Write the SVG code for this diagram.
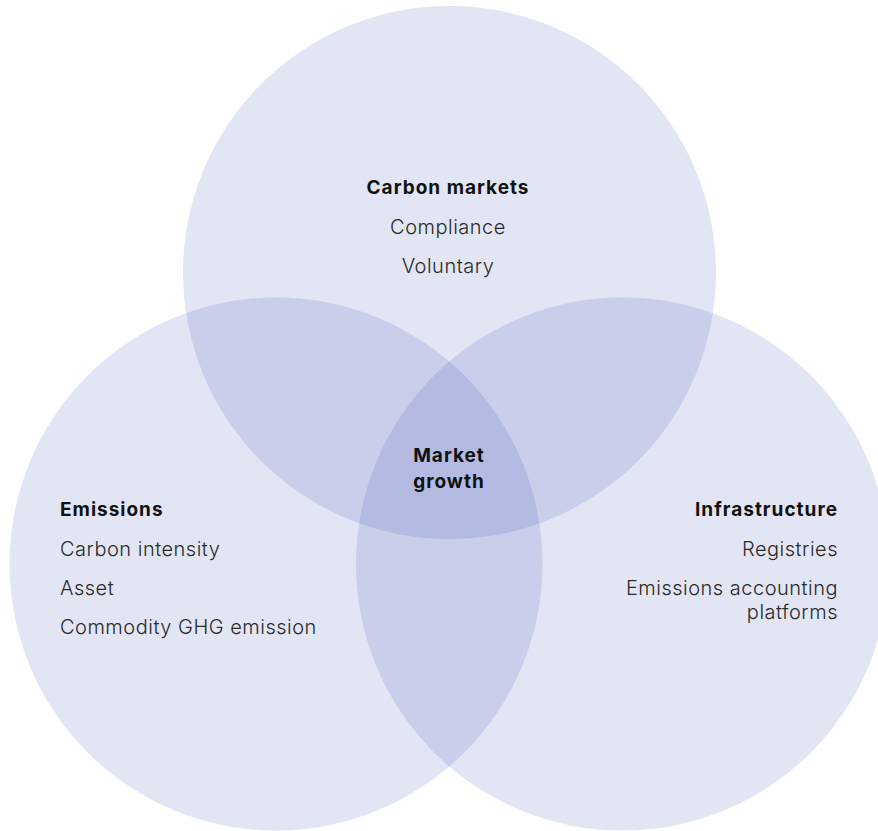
<svg xmlns="http://www.w3.org/2000/svg" width="878" height="831" viewBox="0 0 878 831">
  <style>
    .ring { fill: #3045b0; fill-opacity: 0.14; }
    .head { font-family: Inter, "Liberation Sans", sans-serif; font-size: 19px; font-weight: 700; fill: #111111; letter-spacing: 1px; }
    .item { font-family: Inter, "Liberation Sans", sans-serif; font-size: 20px; font-weight: 300; fill: #2a2a2a; letter-spacing: 0.5px; }
    .mid { text-anchor: middle; }
    .end { text-anchor: end; }
  </style>
  <rect width="878" height="831" fill="#ffffff"/>

  <!-- Carbon markets (top circle) -->
  <g id="carbon-markets">
    <circle class="ring" cx="449.5" cy="272.5" r="266.5"/>
    <text class="head mid" x="448" y="194">Carbon markets</text>
    <text class="item mid" x="448" y="234">Compliance</text>
    <text class="item mid" x="448" y="273">Voluntary</text>
  </g>

  <!-- Emissions (left circle) -->
  <g id="emissions">
    <circle class="ring" cx="276" cy="564" r="266.5"/>
    <text class="head" x="60" y="516">Emissions</text>
    <text class="item" x="60" y="556">Carbon intensity</text>
    <text class="item" x="60" y="595">Asset</text>
    <text class="item" x="60" y="634">Commodity GHG emission</text>
  </g>

  <!-- Infrastructure (right circle) -->
  <g id="infrastructure">
    <circle class="ring" cx="622.5" cy="564" r="266.5"/>
    <text class="head end" x="838" y="516">Infrastructure</text>
    <text class="item end" x="838" y="556">Registries</text>
    <text class="item end" x="838" y="595">Emissions accounting</text>
    <text class="item end" x="838" y="619">platforms</text>
  </g>

  <!-- Shared centre -->
  <g id="market-growth">
    <text class="head mid" x="449" y="462">Market</text>
    <text class="head mid" x="449" y="488">growth</text>
  </g>
</svg>
